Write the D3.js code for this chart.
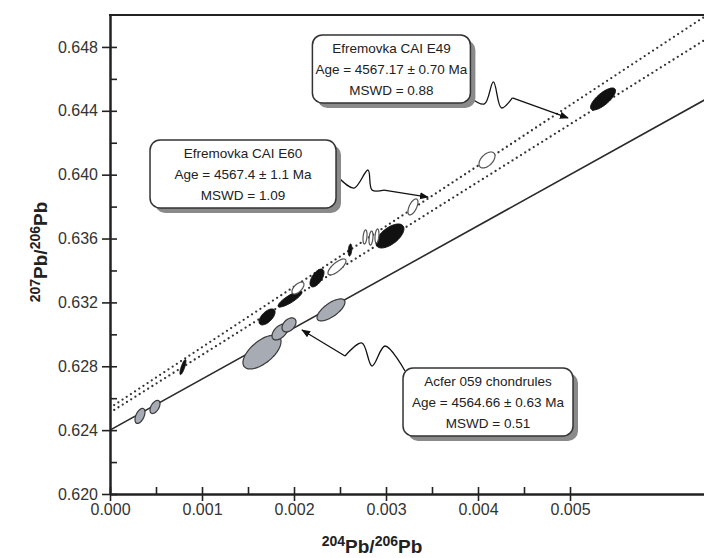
<!DOCTYPE html>
<html><head><meta charset="utf-8">
<script src="https://cdn.jsdelivr.net/npm/d3@7"></script>
<style>body{margin:0;background:#fff}svg{display:block}</style>
</head><body><svg id="c" width="704" height="558"></svg>
<script>
// ---- data ----
const xTickValues = [0, 0.001, 0.002, 0.003, 0.004, 0.005];
const xMinorTicks = [0.0005, 0.0015, 0.0025, 0.0035, 0.0045];
const yTickValues = [0.620, 0.624, 0.628, 0.632, 0.636, 0.640, 0.644, 0.648];
const yMinorTicks = [0.622, 0.626, 0.630, 0.634, 0.638, 0.642, 0.646];

const isochronNames = ["Acfer 059 chondrules", "Efremovka CAI E60", "Efremovka CAI E49"];
const isochronIntercepts = [0.6240, 0.6254, 0.6251];
const isochronSlopes = [3.20, 3.79, 3.61];
const isochronAges = ["Age = 4564.66 ± 0.63 Ma", "Age = 4567.4 ± 1.1 Ma", "Age = 4567.17 ± 0.70 Ma"];
const isochronMSWD = ["MSWD = 0.51", "MSWD = 1.09", "MSWD = 0.88"];

// Acfer 059 chondrules (grey ellipses): 204/206, 207/206, 2σ x, 2σ y, rho
const acferX   = [0.000326, 0.000489, 0.001652, 0.001848, 0.001946, 0.002402];
const acferY   = [0.62489, 0.62545, 0.62889, 0.63015, 0.63059, 0.63153];
const acferSx  = [0.0000543, 0.0000543, 0.000207, 0.000087, 0.000076, 0.000152];
const acferSy  = [0.00047, 0.00041, 0.00106, 0.00050, 0.00044, 0.00069];
const acferRho = [0.5, 0.5, 0.62, 0.5, 0.4, 0.7];

// Efremovka E49 (black ellipses)
const e49X   = [0.000793, 0.001707, 0.001957, 0.00225, 0.002609, 0.003043, 0.005359];
const e49Y   = [0.62795, 0.63109, 0.63221, 0.63353, 0.63528, 0.63616, 0.64474];
const e49Sx  = [0.0000326, 0.000087, 0.00013, 0.000076, 0.0000196, 0.000152, 0.000136];
const e49Sy  = [0.00047, 0.00050, 0.00050, 0.00056, 0.000376, 0.00075, 0.00069];
const e49Rho = [0.8, 0.6, 0.85, 0.6, 0.3, 0.6, 0.75];

// Efremovka E60 (open ellipses)
const e60X   = [0.002043, 0.002467, 0.002772, 0.002837, 0.002902, 0.003293, 0.004098];
const e60Y   = [0.6329, 0.63422, 0.6361, 0.63603, 0.63616, 0.63798, 0.64092];
const e60Sx  = [0.0000652, 0.0000978, 0.0000217, 0.0000217, 0.0000217, 0.0000543, 0.000087];
const e60Sy  = [0.000376, 0.00050, 0.00044, 0.00044, 0.00044, 0.00050, 0.00050];
const e60Rho = [0.6, 0.75, 0.3, 0.3, 0.3, 0.6, 0.5];

// callout arrow tips (data coords) and box top-left corners (data coords)
const calloutTipX = [0.002087, 0.003457, 0.004978];
const calloutTipY = [0.63027, 0.63860, 0.64355];
const calloutBoxX = [0.003185, 0.000435, 0.002200];
const calloutBoxY = [0.62789, 0.64217, 0.64875];

// ---- drawing ----
const svg = d3.select("#c");
const x = d3.scaleLinear().domain([0, 0.0065]).range([110, 708]);
const y = d3.scaleLinear().domain([0.620, 0.650]).range([494, 15]);
const font = "'Liberation Sans', Arial, sans-serif";

const defs = svg.append("defs");
defs.append("clipPath").attr("id", "clip")
  .append("rect").attr("x", x(0)).attr("y", y(0.650)).attr("width", x(0.0065) - x(0)).attr("height", y(0.620) - y(0.650));
defs.append("marker").attr("id", "arrow").attr("viewBox", "0 0 10 10").attr("refX", 9).attr("refY", 5)
  .attr("markerWidth", 9).attr("markerHeight", 9).attr("markerUnits", "userSpaceOnUse").attr("orient", "auto")
  .append("path").attr("d", "M0,1 L10,5 L0,9 Z").attr("fill", "#111");

const plot = svg.append("g").attr("clip-path", "url(#clip)");

// isochron lines
const lineGen = d3.line().x(d => x(d[0])).y(d => y(d[1]));
isochronNames.forEach((n, i) => {
  const pts = [0, 0.0065].map(v => [v, isochronIntercepts[i] + isochronSlopes[i] * v]);
  const p = plot.append("path").attr("d", lineGen(pts)).attr("fill", "none");
  if (i === 0) p.attr("stroke", "#2a2a2a").attr("stroke-width", 1.6);
  else p.attr("stroke", "#333").attr("stroke-width", 2.3).attr("stroke-linecap", "round").attr("stroke-dasharray", "0,5");
});

function ellipsePath(cx, cy, sx, sy, rho) {
  const n = 72, r2 = Math.sqrt(1 - rho * rho);
  const pts = d3.range(n).map(k => {
    const t = 2 * Math.PI * k / n;
    return [x(cx + sx * Math.cos(t)), y(cy + sy * (rho * Math.cos(t) + r2 * Math.sin(t)))];
  });
  return d3.line().curve(d3.curveCardinalClosed)(pts);
}
function drawEllipses(X, Y, SX, SY, R, fill, stroke, sw) {
  plot.append("g").selectAll("path").data(X).join("path")
    .attr("d", (d, i) => ellipsePath(X[i], Y[i], SX[i], SY[i], R[i]))
    .attr("fill", fill).attr("stroke", stroke).attr("stroke-width", sw);
}
drawEllipses(acferX, acferY, acferSx, acferSy, acferRho, "#a7abb3", "#3a3a3a", 1.2);
drawEllipses(e49X, e49Y, e49Sx, e49Sy, e49Rho, "#111", "#111", 1);
drawEllipses(e60X, e60Y, e60Sx, e60Sy, e60Rho, "#fff", "#555", 1.2);

// axes
const axisColor = "#222";
const yAxis = svg.append("g").attr("transform", `translate(${x(0)},0)`)
  .call(d3.axisLeft(y).tickValues(yTickValues).tickFormat(d3.format(".3f")).tickSizeInner(8).tickSizeOuter(0).tickPadding(4));
const yIn = svg.append("g").attr("transform", `translate(${x(0)},0)`)
  .call(d3.axisRight(y).tickValues(yTickValues.concat(yMinorTicks)).tickFormat("").tickSizeInner(7).tickSizeOuter(0));
const xAxis = svg.append("g").attr("transform", `translate(0,${y(0.620)})`)
  .call(d3.axisBottom(x).tickValues(xTickValues).tickFormat(d3.format(".3f")).tickSizeInner(7).tickSizeOuter(0).tickPadding(3));
const xIn = svg.append("g").attr("transform", `translate(0,${y(0.620)})`)
  .call(d3.axisTop(x).tickValues(xTickValues.concat(xMinorTicks)).tickFormat("").tickSizeInner(7).tickSizeOuter(0));
[yAxis, yIn, xAxis, xIn].forEach(g => {
  g.selectAll("path.domain").attr("stroke", axisColor).attr("stroke-width", 2);
  g.selectAll(".tick line").attr("stroke", axisColor).attr("stroke-width", 1.6);
  g.selectAll("text").attr("font-family", font).attr("font-size", 16).attr("fill", "#333");
});
// top frame
svg.append("line").attr("x1", x(0) - 1).attr("x2", 704).attr("y1", y(0.650)).attr("y2", y(0.650))
  .attr("stroke", axisColor).attr("stroke-width", 2);

// axis titles
function pbTitle(sel, a, b) {
  sel.append("tspan").text(a).attr("font-size", 14).attr("dy", -7);
  sel.append("tspan").text("Pb/").attr("font-size", 19).attr("dy", 7);
  sel.append("tspan").text(b).attr("font-size", 14).attr("dy", -7);
  sel.append("tspan").text("Pb").attr("font-size", 19).attr("dy", 7);
}
const xt = svg.append("text").attr("x", 372).attr("y", 553).attr("text-anchor", "middle")
  .attr("font-family", font).attr("font-weight", "bold").attr("fill", "#222");
pbTitle(xt, "204", "206");
const yt = svg.append("text").attr("transform", "translate(47,252) rotate(-90)").attr("text-anchor", "middle")
  .attr("font-family", font).attr("font-weight", "bold").attr("fill", "#222");
pbTitle(yt, "207", "206");

// callouts
const boxW = [170, 186, 158], boxH = 68;
const wiggles = [
  [[2, 3], [-18, -22], [-31, -2], [-41, -25], [-58, -12]],   // relative to box top-left
  [[188, 37], [204, 48], [218, 30], [222, 50], [234, 50]],
  [[157, 62], [172, 69], [181, 47], [189, 73], [200, 63]]
];
isochronNames.forEach((name, i) => {
  const bx = x(calloutBoxX[i]), by = y(calloutBoxY[i]);
  const tx = x(calloutTipX[i]), ty = y(calloutTipY[i]);
  const g = svg.append("g");
  const pts = wiggles[i].map(p => [bx + p[0], by + p[1]]);
  g.append("path").attr("d", d3.line().curve(d3.curveCatmullRom)(pts)).attr("fill", "none")
    .attr("stroke", "#111").attr("stroke-width", 1.3);
  const last = pts[pts.length - 1];
  g.append("line").attr("x1", last[0]).attr("y1", last[1]).attr("x2", tx).attr("y2", ty)
    .attr("stroke", "#111").attr("stroke-width", 1.3).attr("marker-end", "url(#arrow)");
  g.append("rect").attr("x", bx + 5).attr("y", by + 5).attr("width", boxW[i]).attr("height", boxH)
    .attr("rx", 10).attr("fill", "#8a8a8a");
  g.append("rect").attr("x", bx).attr("y", by).attr("width", boxW[i]).attr("height", boxH)
    .attr("rx", 10).attr("fill", "#fff").attr("stroke", "#333").attr("stroke-width", 1.5);
  [name, isochronAges[i], isochronMSWD[i]].forEach((t, k) => {
    g.append("text").attr("x", bx + boxW[i] / 2).attr("y", by + 18 + k * 21).attr("text-anchor", "middle")
      .attr("font-family", font).attr("font-size", 13.5).attr("fill", "#222").text(t);
  });
});
</script></body></html>
